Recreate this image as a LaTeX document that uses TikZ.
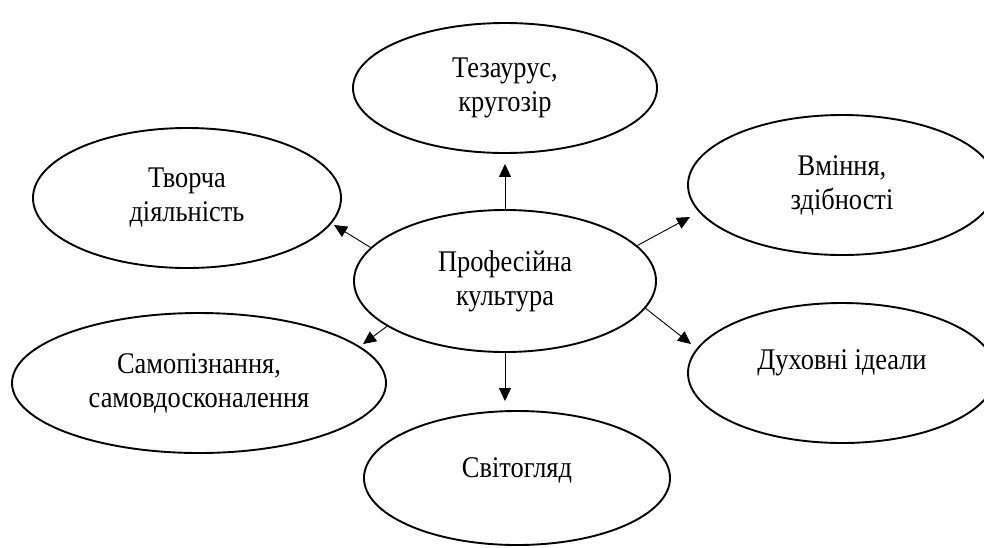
\documentclass[tikz,border=0pt]{standalone}
\usepackage{fontspec}
\setmainfont{Liberation Serif}[FakeStretch=0.88]
\usetikzlibrary{shapes.geometric,arrows.meta}
\begin{document}
\begin{tikzpicture}[x=1pt,y=-1pt,
  oval/.style={draw,ellipse,line width=1.9pt,inner sep=0pt,align=center,
    font=\fontsize{30}{34}\selectfont},
  arr/.style={line width=0.9pt,-{Triangle[length=13pt,width=12pt]}}]
\useasboundingbox (0,0) rectangle (984,547);
\node[oval,minimum width=302pt,minimum height=142pt] (c) at (505,281) {Професійна\\культура};
\node[oval,minimum width=304pt,minimum height=130pt] (t) at (505,88) {Тезаурус,\\кругозір};
\node[oval,minimum width=308pt,minimum height=140pt] (tl) at (187,198) {Творча\\діяльність};
\node[oval,minimum width=308pt,minimum height=140pt] (tr) at (842,185) {Вміння,\\здібності};
\node[oval,minimum width=374pt,minimum height=140pt] (bl) at (199,383) {Самопізнання,\\самовдосконалення};
\node[oval,minimum width=308pt,minimum height=140pt,text height=20pt,text depth=28pt] (br) at (842,373) {Духовні ідеали};
\node[oval,minimum width=306pt,minimum height=134pt,text height=20pt,text depth=22pt] (b) at (517,478) {Світогляд};
\coordinate (atl) at (334,225);
\coordinate (atr) at (690,217);
\coordinate (abl) at (363,344);
\coordinate (abr) at (691,344);
\draw[arr,shorten >=10pt] (c.north) -- (c.north |- t.south);
\draw[arr,shorten >=9pt] (c.south) -- (c.south |- b.north);
\draw[arr] (c.166.4) -- (atl);
\draw[arr] (c.15.1) -- (atr);
\draw[arr] (c.201.3) -- (abl);
\draw[arr] (c.349.4) -- (abr);
\end{tikzpicture}
\end{document}
